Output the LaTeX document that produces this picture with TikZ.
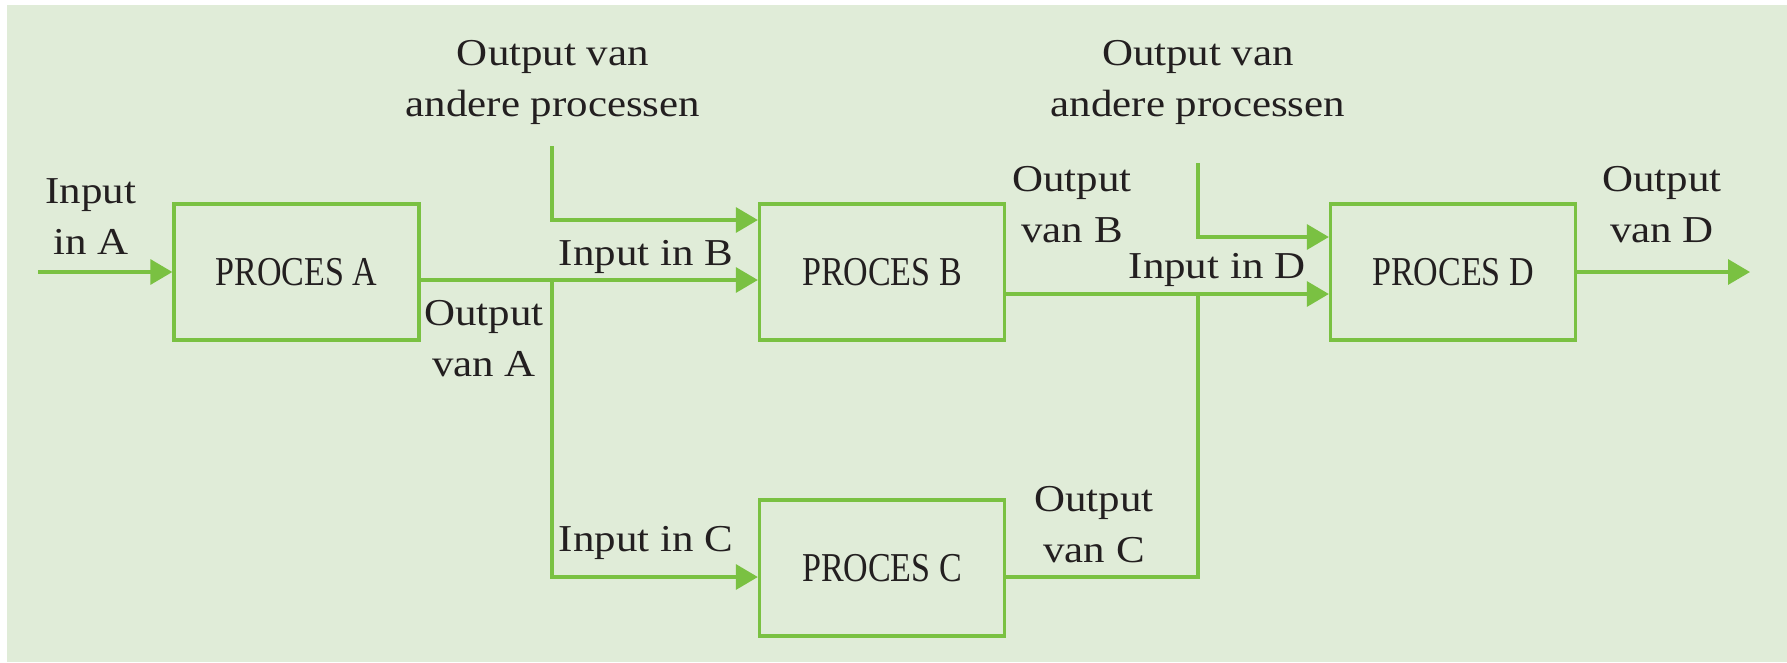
\documentclass[tikz,border=0pt]{standalone}
\usepackage{fontspec}
\setmainfont{Liberation Serif}
\newfontfamily\labelfont[FakeStretch=1.13]{Liberation Serif}
\newfontfamily\boxfont[FakeStretch=0.83]{Liberation Serif}
\usetikzlibrary{arrows.meta}
\definecolor{bgc}{HTML}{E0ECD8}
\definecolor{gl}{HTML}{7AC142}
\definecolor{tx}{HTML}{231F20}
\tikzset{
  box/.style={draw=gl, line width=3.3pt, minimum width=245pt, minimum height=136pt, inner sep=0pt,
    text=tx, font=\boxfont\fontsize{41}{51}\selectfont},
  lbl/.style={text=tx, align=center, inner sep=0pt, font=\labelfont\fontsize{38}{51}\selectfont},
  conn/.style={draw=gl, line width=3.3pt},
  arr/.style={conn, -{Triangle[length=22pt, width=25pt]}},
}
\begin{document}
\begin{tikzpicture}[x=1pt,y=-1pt]
\useasboundingbox (0,0) rectangle (1787,662);
\fill[bgc] (7,5) rectangle (1787,662);

\node[box] (A) at (296.5,272) {PROCES A};
\node[box] (B) at (882,272) {PROCES B};
\node[box] (C) at (882,568) {PROCES C};
\node[box] (D) at (1453,272) {PROCES D};

\coordinate (inA) at (38,272);
\coordinate (topL) at (552,146);
\coordinate (topR) at (1198,163);
\coordinate (jA) at (552,280);
\coordinate (cA) at (552,577);
\coordinate (jD) at (1198,294);
\coordinate (cC) at (1198,577);
\coordinate (bIn) at (552,220);
\coordinate (dIn) at (1198,237);
\coordinate (outD) at (1750,272);

\draw[arr] (inA) -- (A.west);
\draw[arr] (A.east |- jA) -- (B.west |- jA);
\draw[arr] (jA) -- (cA) -- (C.west |- cA);
\draw[arr] (topL) -- (bIn) -- (B.west |- bIn);
\draw[arr] (B.east |- jD) -- (D.west |- jD);
\draw[conn] (C.east |- cC) -- (cC) -- (jD);
\draw[arr] (topR) -- (dIn) -- (D.west |- dIn);
\draw[arr] (D.east) -- (outD);

\node[lbl] (l1) at (553,82) {Output van\\andere processen};
\node[lbl] (l2) at (1198,82) {Output van\\andere processen};
\node[lbl] (l3) at (91,217) {Input\\in A};
\node[lbl] (l4) at (484,339) {Output\\van A};
\node[lbl] (l5) at (646,257) {Input in B};
\node[lbl] (l6) at (1072,205) {Output\\van B};
\node[lbl] (l7) at (1217,270) {Input in D};
\node[lbl] (l8) at (1662,205) {Output\\van D};
\node[lbl] (l9) at (646,543) {Input in C};
\node[lbl] (l10) at (1094,525) {Output\\van C};
\end{tikzpicture}
\end{document}
